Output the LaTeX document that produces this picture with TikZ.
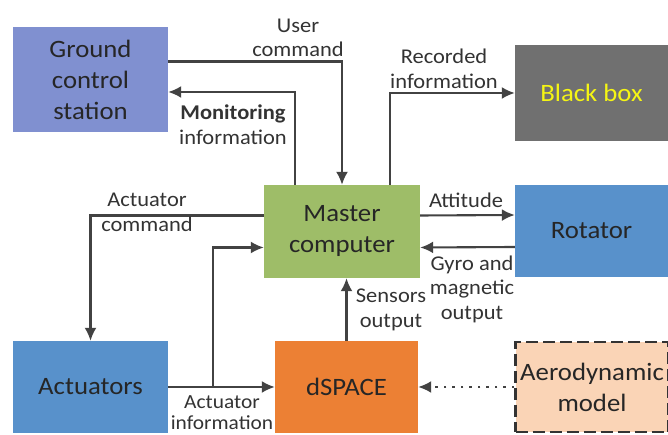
\documentclass[tikz,border=0pt]{standalone}
\usepackage{fontspec}
\setmainfont{Carlito}[FakeStretch=1.07]
\usepackage{xcolor}
\usetikzlibrary{arrows.meta}
\definecolor{gcsblue}{RGB}{128,144,208}
\definecolor{boxgray}{RGB}{112,112,112}
\definecolor{textyellow}{RGB}{245,245,20}
\definecolor{mastergreen}{RGB}{158,189,104}
\definecolor{rotblue}{RGB}{88,145,203}
\definecolor{dsorange}{RGB}{236,128,52}
\definecolor{aeropeach}{RGB}{250,212,182}
\definecolor{linegray}{RGB}{66,66,66}

\begin{document}
\begin{tikzpicture}[x=1pt, y=1pt,
    block/.style={inner sep=0pt, align=center, text=black!85, font=\fontsize{25}{31}\selectfont},
    lbl/.style={inner sep=0pt, align=center, text=black!80, font=\fontsize{21}{24.5}\selectfont},
    conn/.style={draw=linegray, line width=2.1pt, -{Latex[length=13pt,width=12pt]}}]
\useasboundingbox (0,0) rectangle (668,435);
\node[block, fill=gcsblue, minimum width=155, minimum height=105] (gcs) at (90.5,355.5) {Ground\\control\\station};
\node[block, fill=boxgray, text=textyellow, minimum width=153, minimum height=96] (blackbox) at (591.5,342) {Black box};
\node[block, fill=mastergreen, minimum width=156, minimum height=93] (master) at (342,203.5) {Master\\computer};
\node[block, fill=rotblue, minimum width=153, minimum height=92] (rotator) at (591.5,204) {Rotator};
\node[block, fill=rotblue, minimum width=155, minimum height=92] (actuators) at (90.5,48) {Actuators};
\node[block, fill=dsorange, minimum width=143, minimum height=92] (dspace) at (346.5,48) {dSPACE};
\node[block, fill=aeropeach, draw=black!80, line width=2.5pt, dash pattern=on 12pt off 5pt, minimum width=153, minimum height=90] (aero) at (592,48) {Aerodynamic\\model};
\coordinate (split) at (213,48);

\draw[conn] ([yshift=18]gcs.east) -| (master.north);
\draw[conn] ([xshift=-47]master.north) |- ([yshift=-12.5]gcs.east);
\draw[conn] ([xshift=48]master.north) |- (blackbox.west);
\draw[conn] ([yshift=16]master.east) -- ([yshift=16]rotator.west);
\draw[conn] ([yshift=-16]rotator.west) -- ([yshift=-16]master.east);
\draw[conn] (dspace.north) -- (dspace.north |- master.south);
\draw[conn] ([yshift=16]master.west) -| (actuators.north);
\draw[conn] (actuators.east) -- (dspace.west);
\draw[conn] (split) |- ([yshift=-16]master.west);
\draw[conn, dash pattern=on 2.5pt off 6pt] (aero.west) -- (dspace.east);

\node[lbl] (usercmd) at (298,397) {User\\command};
\node[lbl] (monitor) at (233,310.5) {\textbf{Monitoring}\\information};
\node[lbl] (recorded) at (444,366) {Recorded\\information};
\node[lbl] (attitude) at (466,235) {Attitude};
\node[lbl] (gyro) at (472,146) {Gyro and\\magnetic\\output};
\node[lbl] (sensors) at (391,125) {Sensors\\output};
\node[lbl] (actcmd) at (147,222.5) {Actuator\\command};
\node[lbl, font=\fontsize{20}{21}\selectfont] (actinfo) at (222,22.5) {Actuator\\information};
\end{tikzpicture}
\end{document}
